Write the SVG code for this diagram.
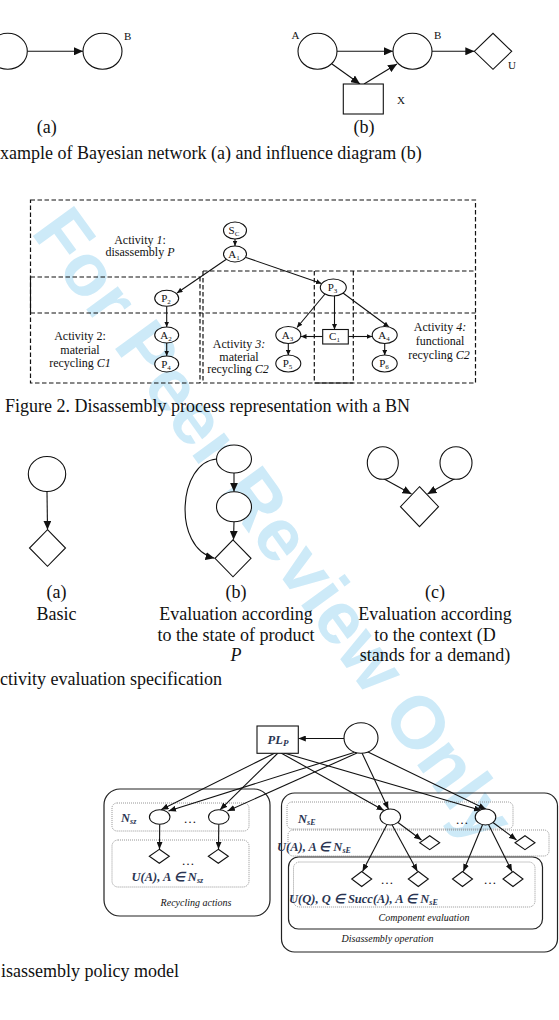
<svg xmlns="http://www.w3.org/2000/svg" width="559" height="1020" viewBox="0 0 559 1020">
<defs>
<style>
.wm{font-family:"Liberation Sans",Arial,sans-serif;font-weight:bold;font-size:74px;fill:#cdeaf8}
.n{fill:#fff;stroke:#111;stroke-width:1.1}
.e{fill:none;stroke:#111;stroke-width:1.1}
.ds{fill:none;stroke:#111;stroke-width:1.2;stroke-dasharray:4.5 2.5}
.dt{fill:none;stroke:#8a8a8a;stroke-width:0.9;stroke-dasharray:1 1}
.bx{fill:none;stroke:#222;stroke-width:1.2}
.s{font-family:"Liberation Serif","Times New Roman",serif;fill:#111}
.cap{font-size:18px}
.lb{font-size:11px}
.al{font-size:12px;text-anchor:middle}
.nl{font-size:11px;text-anchor:middle}
.c{text-anchor:middle}
.i{font-style:italic}
.sm{font-size:10px;font-style:italic;text-anchor:middle}
.m{font-family:"Liberation Serif",serif;font-style:italic;font-weight:bold;fill:#2a3552;font-size:12.5px}
</style>
<marker id="a9" markerUnits="userSpaceOnUse" markerWidth="10" markerHeight="8" refX="9" refY="4" orient="auto"><path d="M0,0L9,4L0,8z" fill="#111"/></marker>
<marker id="a5" markerUnits="userSpaceOnUse" markerWidth="6" markerHeight="5" refX="5.5" refY="2.5" orient="auto"><path d="M0,0L5.5,2.5L0,5z" fill="#111"/></marker>
<marker id="a7" markerUnits="userSpaceOnUse" markerWidth="8" markerHeight="6" refX="7.5" refY="3" orient="auto"><path d="M0,0L7.5,3L0,6z" fill="#111"/></marker>
</defs>
<rect width="559" height="1020" fill="#fff"/>
<text class="wm" transform="translate(30,232) rotate(54)">For Peer Review Only</text>

<!-- Figure 1 -->
<g id="f1-connectors">
<line class="e" x1="27.3" y1="51.3" x2="83" y2="51.3" marker-end="url(#a9)"/>
<line class="e" x1="337" y1="51.3" x2="393" y2="51.3" marker-end="url(#a9)"/>
<line class="e" x1="432" y1="51.3" x2="474.3" y2="51.3" marker-end="url(#a9)"/>
<line class="e" x1="332" y1="64" x2="360" y2="84" marker-end="url(#a9)"/>
<line class="e" x1="364" y1="84" x2="397" y2="64" marker-end="url(#a9)"/>
</g>
<g id="f1a-left"><ellipse class="n" cx="7.8" cy="51.3" rx="19.5" ry="18"/></g>
<g id="f1a-B"><ellipse class="n" cx="102.5" cy="51.3" rx="19.5" ry="18"/><text class="s lb" x="124" y="39.5">B</text></g>
<g id="f1b-A"><ellipse class="n" cx="317.5" cy="51.3" rx="19.5" ry="18"/><text class="s lb" x="291.5" y="38.5">A</text></g>
<g id="f1b-B"><ellipse class="n" cx="412.5" cy="51.3" rx="19.5" ry="18"/><text class="s lb" x="434" y="38.5">B</text></g>
<g id="f1b-U"><polygon class="n" points="474.3,51.3 493,33.3 511.7,51.3 493,69.3"/><text class="s lb" x="508" y="68.5">U</text></g>
<g id="f1b-X"><rect class="n" x="343.3" y="84" width="40" height="30"/><text class="s lb" x="397" y="103.5">X</text></g>
<text class="s cap c" x="46.7" y="133">(a)</text>
<text class="s cap c" x="364" y="133">(b)</text>
<text class="s cap" x="0" y="159">xample of Bayesian network (a) and influence diagram (b)</text>

<!-- Figure 2 -->
<g id="f2-regions">
<rect class="ds" x="30.5" y="200" width="445" height="183"/>
<line class="ds" x1="30.5" y1="277" x2="200" y2="277"/>
<line class="e" x1="30.5" y1="277" x2="30.5" y2="313"/>
<line class="ds" x1="200" y1="277" x2="200" y2="383"/>
<line class="ds" x1="203" y1="271" x2="203" y2="383"/>
<line class="ds" x1="203" y1="271" x2="475.5" y2="271"/>
<line class="ds" x1="30.5" y1="313" x2="475.5" y2="313"/>
<line class="ds" x1="314.3" y1="271" x2="314.3" y2="383"/>
<line class="ds" x1="353.3" y1="271" x2="353.3" y2="383"/>
<line class="e" x1="314.3" y1="383" x2="353.3" y2="383"/>
</g>
<g id="f2-labels">
<text class="s al" x="140" y="243.5">Activity <tspan class="i">1</tspan>:</text>
<text class="s al" x="140" y="255.5">disassembly <tspan class="i">P</tspan></text>
<text class="s al" x="80" y="340">Activity 2:</text>
<text class="s al" x="80" y="353.5">material</text>
<text class="s al" x="80" y="367">recycling <tspan class="i">C1</tspan></text>
<text class="s al" x="239" y="348">Activity <tspan class="i">3:</tspan></text>
<text class="s al" x="239" y="360.5">material</text>
<text class="s al" x="238" y="373">recycling <tspan class="i">C2</tspan></text>
<text class="s al" x="440" y="331">Activity <tspan class="i">4:</tspan></text>
<text class="s al" x="440" y="345">functional</text>
<text class="s al" x="439" y="359">recycling <tspan class="i">C2</tspan></text>
</g>
<g id="f2-connectors">
<line class="e" x1="235" y1="239" x2="235" y2="246" marker-end="url(#a5)"/>
<line class="e" x1="226" y1="259.5" x2="177" y2="293" marker-end="url(#a5)"/>
<line class="e" x1="246" y1="257.5" x2="321.5" y2="283.5" marker-end="url(#a5)"/>
<line class="e" x1="166.7" y1="306.3" x2="166.7" y2="327" marker-end="url(#a5)"/>
<line class="e" x1="166.7" y1="343" x2="166.7" y2="356" marker-end="url(#a5)"/>
<line class="e" x1="325" y1="294" x2="297" y2="327.5" marker-end="url(#a5)"/>
<line class="e" x1="334.5" y1="296" x2="334.5" y2="329.5" marker-end="url(#a5)"/>
<line class="e" x1="343" y1="293" x2="389" y2="327" marker-end="url(#a5)"/>
<line class="e" x1="322.7" y1="336.5" x2="301" y2="336.5" marker-end="url(#a5)"/>
<line class="e" x1="348.3" y1="336.5" x2="372.2" y2="336.5" marker-end="url(#a5)"/>
<line class="e" x1="288.3" y1="343.5" x2="288.3" y2="355.3" marker-end="url(#a5)"/>
<line class="e" x1="384.7" y1="343.5" x2="384.7" y2="355.3" marker-end="url(#a5)"/>
</g>
<g id="f2-Sc"><ellipse class="n" cx="235" cy="230.5" rx="11.5" ry="8.5"/><text class="s nl" x="234" y="234">S<tspan font-size="7" dy="2">C</tspan></text></g>
<g id="f2-A1"><ellipse class="n" cx="235" cy="254" rx="11.5" ry="8"/><text class="s nl" x="234" y="257.5">A<tspan font-size="7" dy="2">1</tspan></text></g>
<g id="f2-P2"><ellipse class="n" cx="166.7" cy="298.3" rx="12" ry="8"/><text class="s nl" x="166" y="301.8">P<tspan font-size="7" dy="2">2</tspan></text></g>
<g id="f2-A2"><ellipse class="n" cx="166.7" cy="335" rx="12" ry="8"/><text class="s nl" x="166" y="338.5">A<tspan font-size="7" dy="2">2</tspan></text></g>
<g id="f2-P4"><ellipse class="n" cx="166.7" cy="364" rx="12" ry="8"/><text class="s nl" x="166" y="367.5">P<tspan font-size="7" dy="2">4</tspan></text></g>
<g id="f2-P3"><ellipse class="n" cx="333.3" cy="287.5" rx="13" ry="8.5"/><text class="s nl" x="332.5" y="291">P<tspan font-size="7" dy="2">3</tspan></text></g>
<g id="f2-A3"><ellipse class="n" cx="288.3" cy="335" rx="12.5" ry="8.5"/><text class="s nl" x="287.5" y="338.5">A<tspan font-size="7" dy="2">3</tspan></text></g>
<g id="f2-P5"><ellipse class="n" cx="288.3" cy="363.5" rx="12.5" ry="8.5"/><text class="s nl" x="287.5" y="367">P<tspan font-size="7" dy="2">5</tspan></text></g>
<g id="f2-C1"><rect class="n" x="322.7" y="329.5" width="25.6" height="14.5"/><text class="s nl" x="334.5" y="340">C<tspan font-size="7" dy="2">1</tspan></text></g>
<g id="f2-A4"><ellipse class="n" cx="384.7" cy="335" rx="12.5" ry="8.5"/><text class="s nl" x="384" y="338.5">A<tspan font-size="7" dy="2">4</tspan></text></g>
<g id="f2-P6"><ellipse class="n" cx="384.7" cy="363.5" rx="12.5" ry="8.5"/><text class="s nl" x="384" y="367">P<tspan font-size="7" dy="2">6</tspan></text></g>
<text class="s cap" x="5" y="412">Figure 2.  Disassembly process representation with a BN</text>

<!-- Figure 3 -->
<g id="f3-connectors">
<line class="e" x1="47" y1="491.5" x2="47.5" y2="529.7" marker-end="url(#a9)"/>
<line class="e" x1="234" y1="473" x2="234" y2="491.7" marker-end="url(#a9)"/>
<line class="e" x1="234" y1="521.7" x2="233.5" y2="539.8" marker-end="url(#a9)"/>
<path class="e" d="M216.7,459 C178,462 172,548 214.5,558.3" marker-end="url(#a9)"/>
<line class="e" x1="383.3" y1="478.5" x2="411.5" y2="494" marker-end="url(#a9)"/>
<line class="e" x1="455" y1="478.5" x2="427.5" y2="494" marker-end="url(#a9)"/>
</g>
<g id="f3a-circle"><ellipse class="n" cx="47" cy="474" rx="18.7" ry="17.5"/></g>
<g id="f3a-diamond"><polygon class="n" points="47.5,529.7 65.5,548 47.5,566.3 29.5,548"/></g>
<g id="f3b-top"><ellipse class="n" cx="234" cy="459" rx="17.5" ry="14"/></g>
<g id="f3b-mid"><ellipse class="n" cx="234" cy="506.7" rx="17.5" ry="15"/></g>
<g id="f3b-diamond"><polygon class="n" points="233,539.8 251,558.3 233,576.8 215,558.3"/></g>
<g id="f3c-left"><ellipse class="n" cx="382.8" cy="463" rx="15.5" ry="16.3"/></g>
<g id="f3c-right"><ellipse class="n" cx="456" cy="463" rx="16" ry="16.3"/></g>
<g id="f3c-diamond"><polygon class="n" points="419.5,486.7 438.5,506.7 419.5,526.7 400.5,506.7"/></g>
<text class="s cap c" x="56.5" y="598">(a)</text>
<text class="s cap c" x="56.5" y="620">Basic</text>
<text class="s cap c" x="236" y="598">(b)</text>
<text class="s cap c" x="236" y="620">Evaluation according</text>
<text class="s cap c" x="236" y="640.5">to the state of product</text>
<text class="s cap c i" x="236" y="661">P</text>
<text class="s cap c" x="435" y="598">(c)</text>
<text class="s cap c" x="435" y="620">Evaluation according</text>
<text class="s cap c" x="435" y="640.5">to the context (D</text>
<text class="s cap c" x="435" y="661">stands for a demand)</text>
<text class="s cap" x="0" y="685">ctivity evaluation specification</text>

<!-- Figure 4 -->
<g id="f4-recycling-actions">
<rect class="bx" x="104" y="789" width="166" height="127" rx="16"/>
<rect class="dt" x="112" y="803" width="137" height="28" rx="5"/>
<rect class="dt" x="112" y="840" width="137" height="47" rx="6"/>
<text class="s sm" x="196" y="906">Recycling actions</text>
<text class="m" x="121" y="822">N<tspan font-size="8" dy="2">sz</tspan></text>
<text class="s" x="190" y="823" font-size="13" text-anchor="middle">…</text>
<text class="s" x="188" y="865" font-size="13" text-anchor="middle">…</text>
<text class="m" x="131.5" y="881">U(A), A ∈ N<tspan font-size="8" dy="2">sz</tspan></text>
</g>
<g id="f4-disassembly-operation">
<rect class="bx" x="281.5" y="793" width="276" height="159" rx="13"/>
<rect class="dt" x="287" y="802" width="226" height="27" rx="5"/>
<rect class="dt" x="288" y="830" width="261" height="26" rx="5"/>
<text class="s sm" x="387.5" y="942">Disassembly operation</text>
<text class="m" x="298" y="823">N<tspan font-size="8" dy="2">sE</tspan></text>
<text class="s" x="462" y="824" font-size="13" text-anchor="middle">…</text>
<text class="m" x="277" y="851">U(A), A ∈ N<tspan font-size="8" dy="2">sE</tspan></text>
</g>
<g id="f4-component-evaluation">
<rect class="bx" x="288.5" y="857" width="254" height="72" rx="10"/>
<rect class="dt" x="293.5" y="862" width="241.5" height="45" rx="6"/>
<text class="s sm" x="424" y="921">Component evaluation</text>
<text class="s" x="387" y="884" font-size="13" text-anchor="middle">…</text>
<text class="s" x="490" y="884" font-size="13" text-anchor="middle">…</text>
<text class="m" x="289" y="903">U(Q), Q ∈ Succ(A), A ∈ N<tspan font-size="8" dy="2">sE</tspan></text>
</g>
<g id="f4-connectors">
<line class="e" x1="344" y1="738.5" x2="298.3" y2="738.5" marker-end="url(#a7)"/>
<line class="e" x1="275" y1="753" x2="161" y2="809.8" marker-end="url(#a7)"/>
<line class="e" x1="278" y1="753" x2="220" y2="809.8" marker-end="url(#a7)"/>
<line class="e" x1="281" y1="753" x2="384" y2="810.5" marker-end="url(#a7)"/>
<line class="e" x1="284" y1="753" x2="481.5" y2="810.5" marker-end="url(#a7)"/>
<line class="e" x1="354" y1="752.5" x2="168.5" y2="811" marker-end="url(#a7)"/>
<line class="e" x1="357" y1="753" x2="227.5" y2="811" marker-end="url(#a7)"/>
<line class="e" x1="362" y1="753" x2="388.5" y2="809.2" marker-end="url(#a7)"/>
<line class="e" x1="367" y1="751.5" x2="486" y2="809.2" marker-end="url(#a7)"/>
<line class="e" x1="159.7" y1="824.2" x2="159.5" y2="849.3" marker-end="url(#a7)"/>
<line class="e" x1="218.8" y1="824.2" x2="218.5" y2="849.3" marker-end="url(#a7)"/>
<line class="e" x1="398" y1="822.5" x2="421.5" y2="840" marker-end="url(#a7)"/>
<line class="e" x1="493" y1="822.5" x2="516.5" y2="840" marker-end="url(#a7)"/>
<line class="e" x1="387" y1="824.5" x2="362.5" y2="871.5" marker-end="url(#a7)"/>
<line class="e" x1="392" y1="824.8" x2="417.5" y2="871.5" marker-end="url(#a7)"/>
<line class="e" x1="482.5" y1="824.8" x2="463.3" y2="871.5" marker-end="url(#a7)"/>
<line class="e" x1="488.5" y1="824.5" x2="512" y2="871.5" marker-end="url(#a7)"/>
</g>
<g id="f4-PLP"><rect class="n" x="257" y="726" width="41.3" height="27.3"/><text class="m" x="278" y="744" font-size="13" text-anchor="middle">PL<tspan font-size="9" dy="2">P</tspan></text></g>
<g id="f4-top"><ellipse class="n" cx="361" cy="738" rx="17" ry="15.3"/></g>
<g id="f4-rec-node1"><ellipse class="n" cx="159.7" cy="817" rx="10.3" ry="7.2"/></g>
<g id="f4-rec-node2"><ellipse class="n" cx="218.8" cy="817" rx="10.3" ry="7.2"/></g>
<g id="f4-rec-util1"><polygon class="n" points="159.3,849.3 169.3,856.3 159.3,863.3 149.3,856.3"/></g>
<g id="f4-rec-util2"><polygon class="n" points="218.3,849.3 228.3,856.3 218.3,863.3 208.3,856.3"/></g>
<g id="f4-dis-node1"><ellipse class="n" cx="390.3" cy="817" rx="10.3" ry="8"/></g>
<g id="f4-dis-node2"><ellipse class="n" cx="485.5" cy="817" rx="10.3" ry="8"/></g>
<g id="f4-dis-util1"><polygon class="n" points="429.7,835.7 439.7,842.7 429.7,849.7 419.7,842.7"/></g>
<g id="f4-dis-util2"><polygon class="n" points="525,835.7 535,842.7 525,849.7 515,842.7"/></g>
<g id="f4-comp1"><polygon class="n" points="361.7,871.5 371.7,879 361.7,886.5 351.7,879"/></g>
<g id="f4-comp2"><polygon class="n" points="418.3,871.5 428.3,879 418.3,886.5 408.3,879"/></g>
<g id="f4-comp3"><polygon class="n" points="462.5,871.5 472.5,879 462.5,886.5 452.5,879"/></g>
<g id="f4-comp4"><polygon class="n" points="513,871.5 523,879 513,886.5 503,879"/></g>
<text class="s cap" x="1" y="977">isassembly policy model</text>
</svg>
